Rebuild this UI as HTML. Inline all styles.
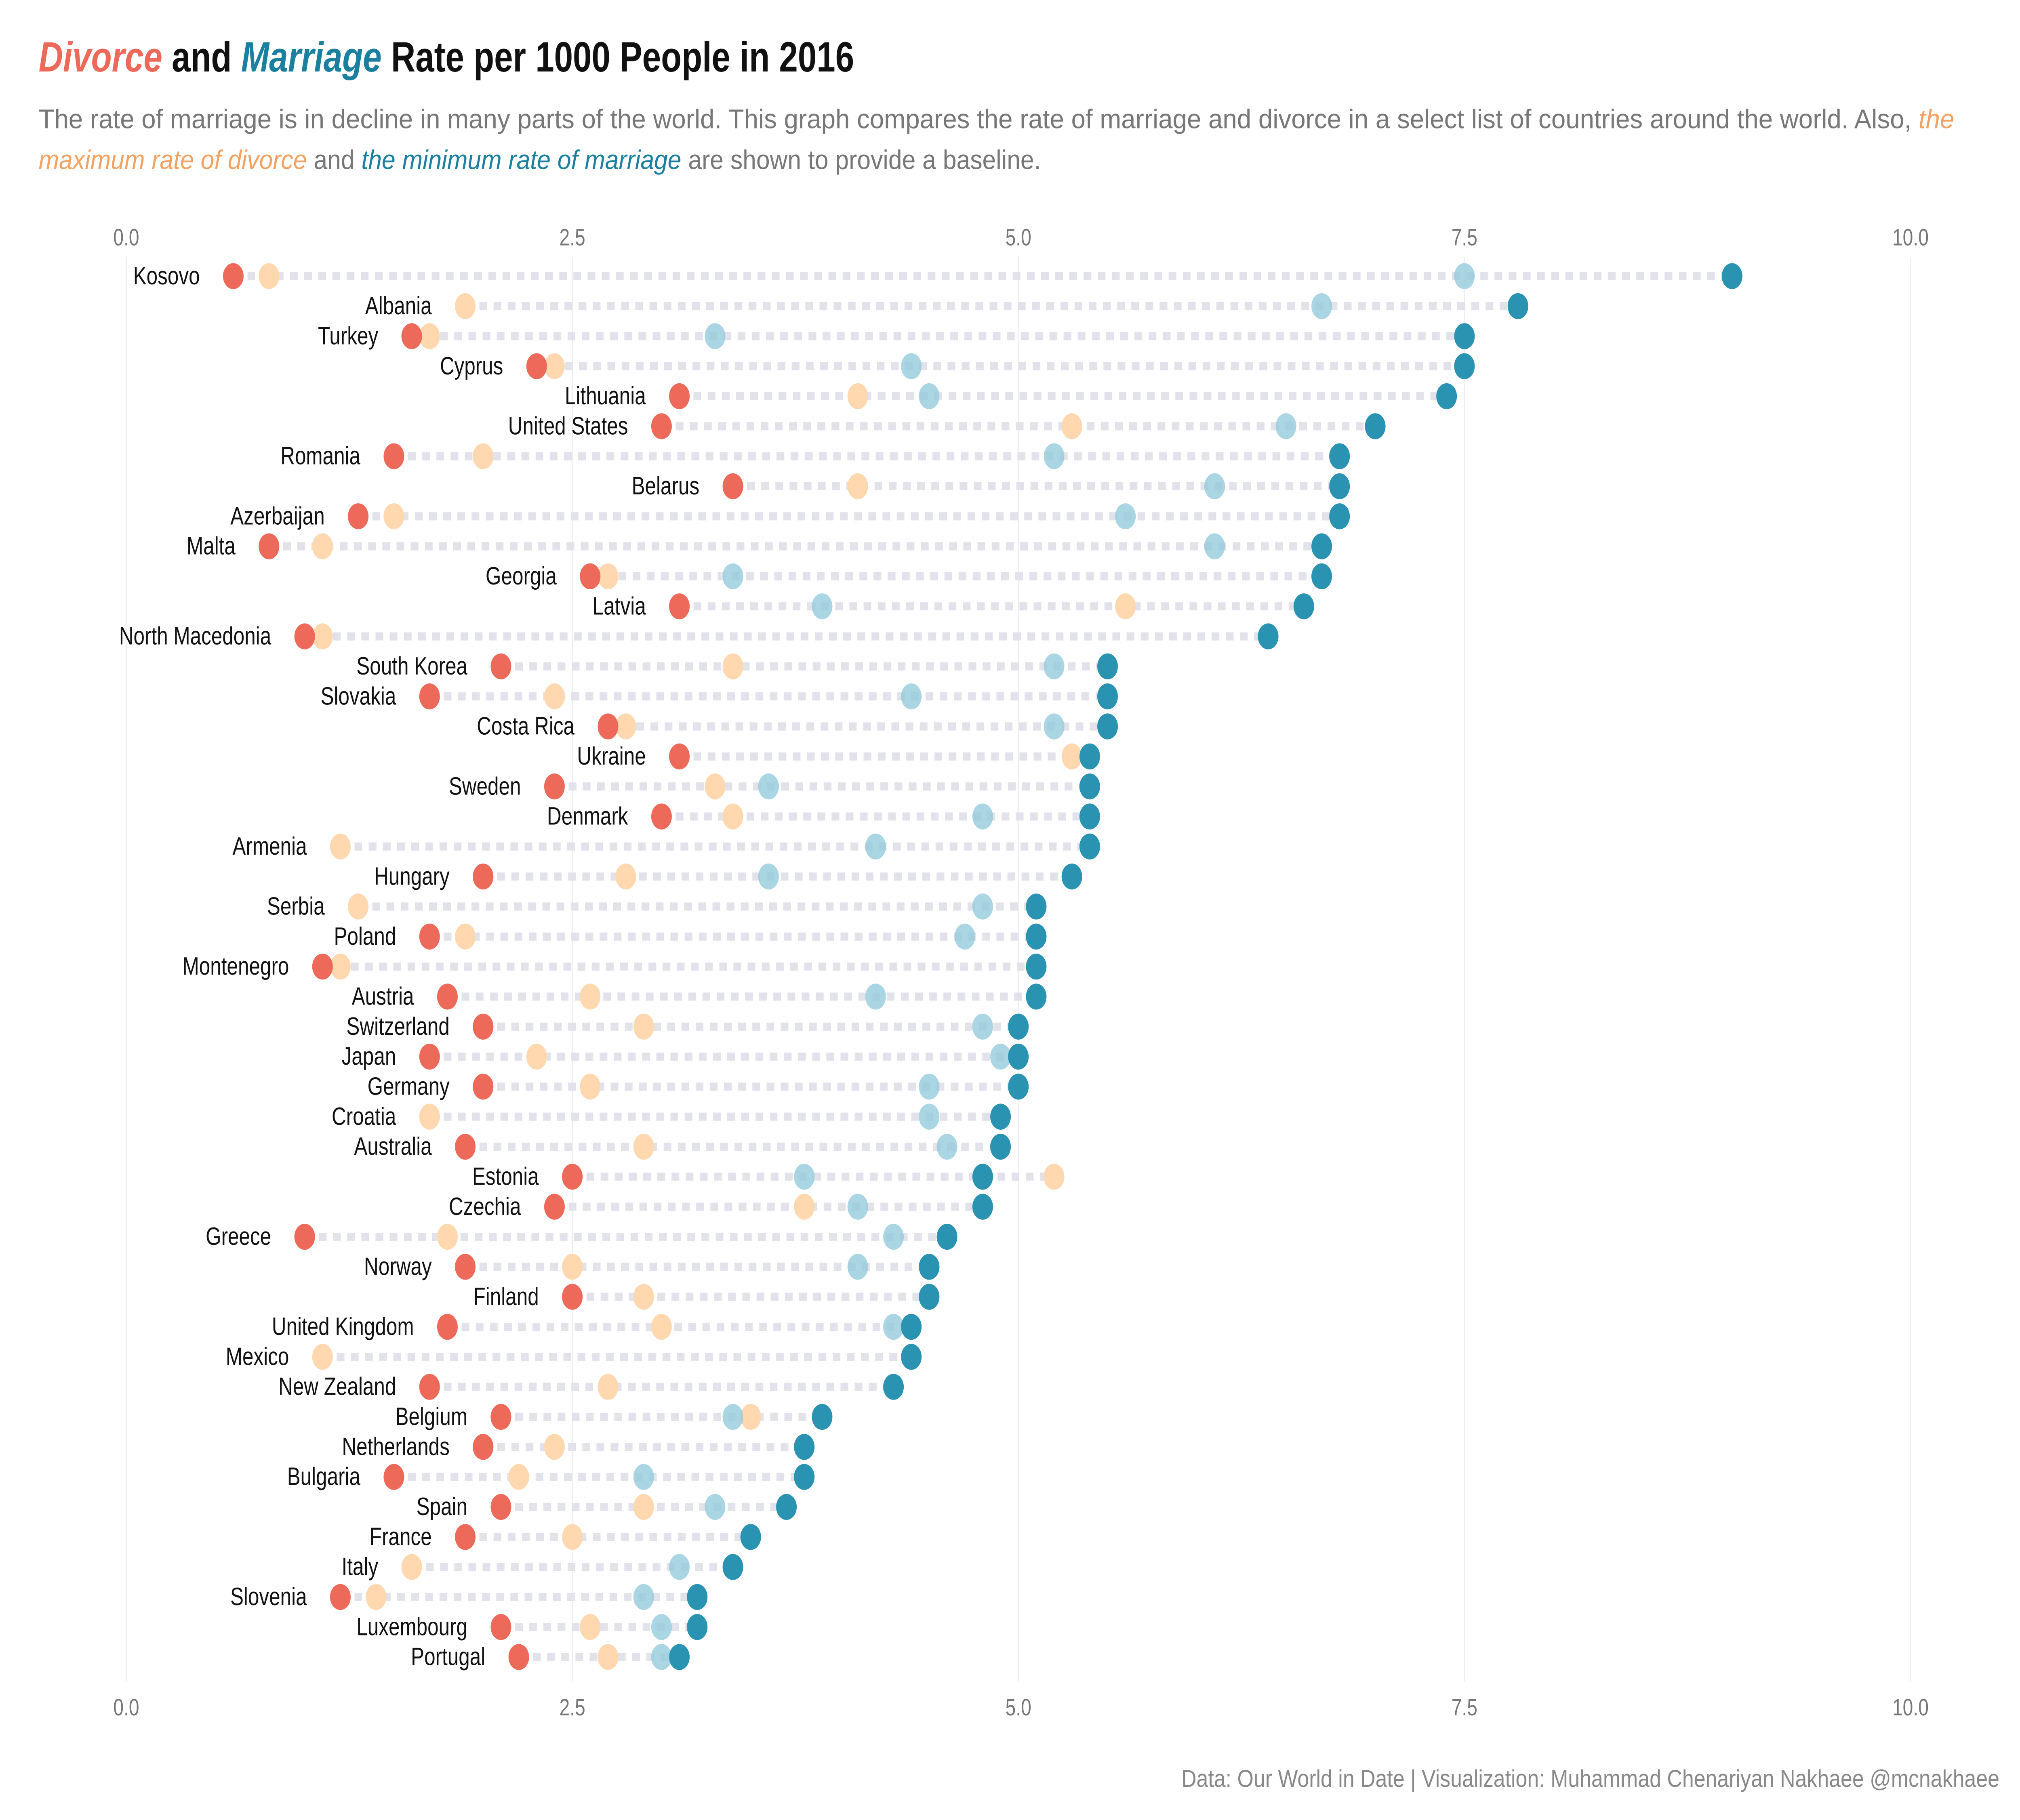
<!DOCTYPE html>
<html><head><meta charset="utf-8"><style>
html,body{margin:0;padding:0;background:#fff;width:100%;height:100%;overflow:hidden;}
svg{display:block;width:100vw;height:100vh;position:absolute;left:0;top:0;}
text{font-family:"Liberation Sans",sans-serif;}
</style></head><body>
<svg id="chart" viewBox="0 0 1568 1120.4" preserveAspectRatio="none" xmlns="http://www.w3.org/2000/svg">
<rect width="1568" height="1120.4" fill="#fff"/>
<text x="30" y="44" font-size="26" font-weight="bold" fill="#111" textLength="633" lengthAdjust="spacingAndGlyphs"><tspan fill="#ED6A5A" font-style="italic">Divorce</tspan> and <tspan fill="#1B7FA0" font-style="italic">Marriage</tspan> Rate per 1000 People in 2016</text>
<text x="30" y="79" font-size="16.5" fill="#777" textLength="1487" lengthAdjust="spacingAndGlyphs">The rate of marriage is in decline in many parts of the world. This graph compares the rate of marriage and divorce in a select list of countries around the world. Also, <tspan fill="#F4A261" font-style="italic">the</tspan></text>
<text x="30" y="104" font-size="16.5" fill="#777" textLength="778" lengthAdjust="spacingAndGlyphs"><tspan fill="#F4A261" font-style="italic">maximum rate of divorce</tspan> and <tspan fill="#1B7FA0" font-style="italic">the minimum rate of marriage</tspan> are shown to provide a baseline.</text>
<g id="grid"></g>
<g id="rows"></g>
<text x="917" y="1100" font-size="15" fill="#888" textLength="635" lengthAdjust="spacingAndGlyphs">Data: Our World in Date | Visualization: Muhammad Chenariyan Nakhaee @mcnakhaee</text>
</svg>
<script>
const countries=["Kosovo","Albania","Turkey","Cyprus","Lithuania","United States","Romania","Belarus","Azerbaijan","Malta","Georgia","Latvia","North Macedonia","South Korea","Slovakia","Costa Rica","Ukraine","Sweden","Denmark","Armenia","Hungary","Serbia","Poland","Montenegro","Austria","Switzerland","Japan","Germany","Croatia","Australia","Estonia","Czechia","Greece","Norway","Finland","United Kingdom","Mexico","New Zealand","Belgium","Netherlands","Bulgaria","Spain","France","Italy","Slovenia","Luxembourg","Portugal"];
const divorce=[0.6,null,1.6,2.3,3.1,3.0,1.5,3.4,1.3,0.8,2.6,3.1,1.0,2.1,1.7,2.7,3.1,2.4,3.0,null,2.0,null,1.7,1.1,1.8,2.0,1.7,2.0,null,1.9,2.5,2.4,1.0,1.9,2.5,1.8,null,1.7,2.1,2.0,1.5,2.1,1.9,null,1.2,2.1,2.2];
const maxDivorce=[0.8,1.9,1.7,2.4,4.1,5.3,2.0,4.1,1.5,1.1,2.7,5.6,1.1,3.4,2.4,2.8,5.3,3.3,3.4,1.2,2.8,1.3,1.9,1.2,2.6,2.9,2.3,2.6,1.7,2.9,5.2,3.8,1.8,2.5,2.9,3.0,1.1,2.7,3.5,2.4,2.2,2.9,2.5,1.6,1.4,2.6,2.7];
const minMarriage=[7.5,6.7,3.3,4.4,4.5,6.5,5.2,6.1,5.6,6.1,3.4,3.9,null,5.2,4.4,5.2,null,3.6,4.8,4.2,3.6,4.8,4.7,null,4.2,4.8,4.9,4.5,4.5,4.6,3.8,4.1,4.3,4.1,null,4.3,null,null,3.4,null,2.9,3.3,null,3.1,2.9,3.0,3.0];
const marriage=[9.0,7.8,7.5,7.5,7.4,7.0,6.8,6.8,6.8,6.7,6.7,6.6,6.4,5.5,5.5,5.5,5.4,5.4,5.4,5.4,5.3,5.1,5.1,5.1,5.1,5.0,5.0,5.0,4.9,4.9,4.8,4.8,4.6,4.5,4.5,4.4,4.4,4.3,3.9,3.8,3.8,3.7,3.5,3.4,3.2,3.2,3.1];
const ticks=[0,2.5,5,7.5,10];
const tickLabels=["0.0","2.5","5.0","7.5","10.0"];
const NS="http://www.w3.org/2000/svg";
const x=v=>98+v*138.5;
const y=i=>170+i*18.48;
function mk(t,a,p){const e=document.createElementNS(NS,t);for(const k in a)e.setAttribute(k,a[k]);p.appendChild(e);return e;}
const grid=document.getElementById('grid');
ticks.forEach((t,i)=>{
  const l=mk('line',{x1:x(t),x2:x(t),y1:158,y2:1035,stroke:'#eeeeee','stroke-width':1},grid);
  
  
  [151,1056].forEach(yy=>{
    const tx=mk('text',{x:x(t),y:yy,'font-size':14.5,fill:'#777','text-anchor':'middle'},grid);
    tx.textContent=tickLabels[i];
    
    
  });
});
const rows=document.getElementById('rows');
countries.forEach((c,i)=>{
  const g=mk('g',{},rows);
  
  
  const vals=[divorce[i],maxDivorce[i],minMarriage[i],marriage[i]].filter(v=>v!==null);
  const lo=Math.min(...vals),hi=Math.max(...vals);
  const ln=mk('line',{x1:x(lo),x2:x(hi),y1:y(i),y2:y(i),stroke:'#e2e2ea','stroke-width':5,'stroke-dasharray':'6 5'},g);
  
  
  const lb=mk('text',{x:x(lo)-26,y:y(i)+5,'font-size':15.5,fill:'#111','text-anchor':'end'},g);
  lb.textContent=c;
  
  
  const specs=[[maxDivorce[i],'#FFD8B0',1,'max-divorce-point'],[minMarriage[i],'#8EC8DA',0.75,'min-marriage-point'],[divorce[i],'#ED6A5A',1,'divorce-point'],[marriage[i],'#2A93B2',1,'marriage-point']];
  specs.forEach(s=>{
    if(s[0]===null)return;
    const p=mk('circle',{cx:x(s[0]),cy:y(i),r:8,fill:s[1],'fill-opacity':s[2]},g);
    
    
  });
});
</script>
</body></html>
